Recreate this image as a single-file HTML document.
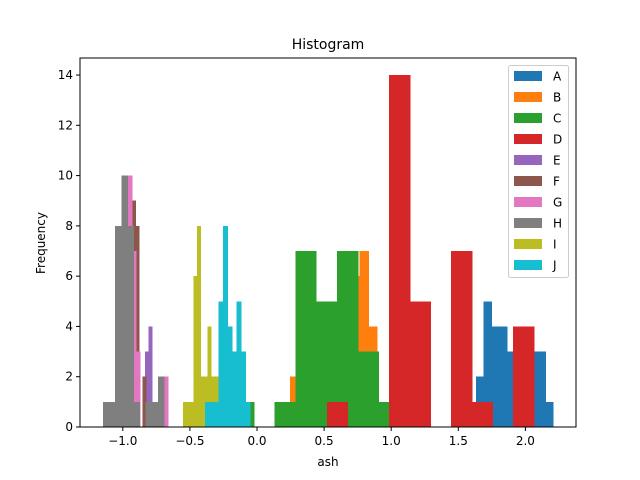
<!DOCTYPE html>
<html><head><meta charset="utf-8"><style>
body{margin:0;background:#fff}
svg{display:block;font-family:"DejaVu Sans","Liberation Sans",sans-serif}
</style></head><body>
<svg id="chart" width="640" height="480" viewBox="0 0 640 480">
<rect width="640" height="480" fill="#fff"/>
<text x="328" y="49" font-size="14" text-anchor="middle">Histogram</text>
<text x="328" y="466" font-size="12" text-anchor="middle">ash</text>
<text x="45" y="243" font-size="12" text-anchor="middle" transform="rotate(-90 45 243)">Frequency</text>
<g id="bars" shape-rendering="crispEdges"></g>
<g id="axes"></g>
<g id="legend"></g>
</svg>
<script>
const seriesNames = ["A","B","C","D","E","F","G","H","I","J"];
const seriesColors = ["#1f77b4","#ff7f0e","#2ca02c","#d62728","#9467bd","#8c564b","#e377c2","#7f7f7f","#bcbd22","#17becf"];
const binStart = [1.632, 0.246, -0.179, 0.5216, -0.8346, -0.931, -0.961, -1.1475, -0.551, -0.3875];
const binWidth = [0.0574, 0.0648, 0.155, 0.1542, 0.026, 0.026, 0.0298, 0.04545, 0.0261, 0.0335];
const countsA = [2,5,4,4,3,3,3,3,3,1];
const countsB = [2,3,5,4,4,5,4,6,7,4];
const countsC = [1,0,1,7,5,7,3,1,1];
const countsD = [1,0,0,14,5,0,7,1,0,4];
const countsE = [3,4];
const countsF = [9,8,0,2];
const countsG = [10,7,3,0,0,0,0,0,0,2];
const countsH = [1,1,8,10,8,1,0,1,1,2];
const countsI = [1,1,1,6,8,2,2,4,2,2];
const countsJ = [1,1,1,5,8,4,3,5,3,1];
const allCounts = [countsA,countsB,countsC,countsD,countsE,countsF,countsG,countsH,countsI,countsJ];
const xTicks = [-1.0,-0.5,0.0,0.5,1.0,1.5,2.0];
const yTicks = [0,2,4,6,8,10,12,14];

const NS="http://www.w3.org/2000/svg";
const L=80,R=576,T=58,B=427;
function xs(v){return 257+134.2*v;}
function ys(v){return B-25.14*v;}
function mk(tag,attrs,parent){const e=document.createElementNS(NS,tag);for(const k in attrs)e.setAttribute(k,attrs[k]);parent.appendChild(e);return e;}

const bars=document.getElementById('bars');
allCounts.forEach((cs,si)=>{
  cs.forEach((c,i)=>{
    if(c<=0)return;
    const x0=xs(binStart[si]+i*binWidth[si]), x1=xs(binStart[si]+(i+1)*binWidth[si]);
    const r=mk('rect',{x:x0,y:ys(c),width:x1-x0+0.5,height:ys(0)-ys(c),fill:seriesColors[si]},bars);
    
    
  });
});

const ax=document.getElementById('axes');
const fr=mk('rect',{x:L,y:T,width:R-L,height:B-T,fill:'none',stroke:'#000','stroke-width':1},ax);


xTicks.forEach(t=>{
  const x=xs(t);
  mk('line',{x1:x,x2:x,y1:B,y2:B+4,stroke:'#000'},ax);
  const tx=mk('text',{x:x,y:B+18,'font-size':12,'text-anchor':'middle'},ax);
  tx.textContent=(t<0?'\u2212':'')+Math.abs(t).toFixed(1);
  
  
});
yTicks.forEach(t=>{
  const y=ys(t);
  mk('line',{x1:L-4,x2:L,y1:y,y2:y,stroke:'#000'},ax);
  const tx=mk('text',{x:L-7,y:y+4,'font-size':12,'text-anchor':'end'},ax);
  tx.textContent=String(t);
  
  
});

const lg=document.getElementById('legend');


mk('rect',{x:508.5,y:65.5,width:60,height:212,rx:2,fill:'#fff','fill-opacity':0.8,stroke:'#ccc'},lg);
seriesNames.forEach((n,i)=>{
  const y=76+i*21;
  const g=mk('g',{},lg);
  
  
  mk('rect',{x:514,y:y-5,width:28,height:10,fill:seriesColors[i]},g);
  const t=mk('text',{x:553,y:y+4.5,'font-size':12},g);
  t.textContent=n;
});
</script>
</body></html>
